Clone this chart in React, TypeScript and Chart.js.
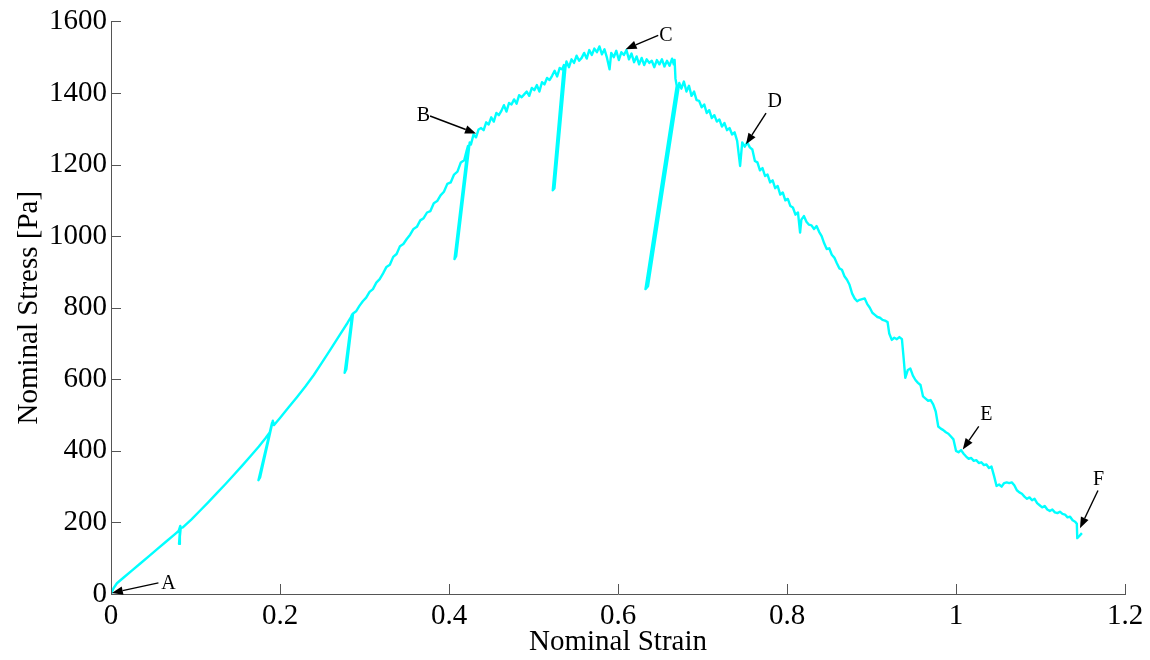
import React, { useEffect, useRef } from 'react';
import { Chart, registerables } from 'chart.js';

Chart.register(...registerables);

const FONT = "'Liberation Serif', 'Times New Roman', Times, serif";

// ---- Axis ticks ----
const xTickValues = [0, 0.2, 0.4, 0.6, 0.8, 1, 1.2];
const xTickLabels = ['0', '0.2', '0.4', '0.6', '0.8', '1', '1.2'];
const yTickValues = [0, 200, 400, 600, 800, 1000, 1200, 1400, 1600];
const yTickLabels = ['0', '200', '400', '600', '800', '1000', '1200', '1400', '1600'];

// ---- Curve data (nominal strain / nominal stress [Pa]) in segments ----
const strainRise = [0, 0.003, 0.007, 0.015, 0.025, 0.035, 0.045, 0.055, 0.065, 0.075,
  0.080, 0.082, 0.0805, 0.0815, 0.0825, 0.085, 0.095, 0.105, 0.115, 0.125,
  0.135, 0.145, 0.155, 0.165, 0.175, 0.183, 0.188, 0.1905, 0.1745, 0.1765,
  0.1915, 0.193, 0.20, 0.21, 0.22, 0.23, 0.24, 0.25, 0.26, 0.27,
  0.28, 0.284, 0.2855, 0.2765, 0.2785, 0.2865, 0.29];
const stressRise = [0, 16, 30, 46, 66, 86, 106, 126, 146, 166,
  176, 190, 140, 160, 184, 186, 208, 232, 256, 281,
  306, 332, 358, 385, 412, 436, 452, 478, 318, 326,
  484, 472, 492, 521, 550, 580, 612, 648, 684, 721,
  758, 774, 782, 618, 628, 784, 790];

const strainUpper = [0.294, 0.298, 0.302, 0.306, 0.310, 0.314, 0.318, 0.322, 0.326, 0.330,
  0.334, 0.338, 0.342, 0.346, 0.350, 0.354, 0.358, 0.362, 0.366, 0.370,
  0.374, 0.378, 0.382, 0.386, 0.390, 0.394, 0.398, 0.402, 0.406, 0.410,
  0.414, 0.418, 0.421, 0.4225, 0.4065, 0.4085, 0.4245];
const stressUpper = [805, 818, 828, 844, 852, 870, 880, 896, 914, 920,
  942, 950, 972, 978, 992, 1004, 1020, 1026, 1044, 1050,
  1066, 1070, 1092, 1098, 1114, 1124, 1146, 1150, 1172, 1180,
  1206, 1212, 1240, 1252, 936, 944, 1262];

const strainShoulder = [0.426, 0.429, 0.432, 0.435, 0.438, 0.441, 0.444, 0.447, 0.450, 0.453,
  0.456, 0.459, 0.462, 0.465, 0.468, 0.471, 0.474, 0.477, 0.480, 0.483,
  0.486, 0.489, 0.492, 0.495, 0.498, 0.501, 0.504, 0.507, 0.510, 0.513,
  0.516, 0.519, 0.522, 0.525, 0.528, 0.531, 0.534, 0.536, 0.5228, 0.5248, 0.5378];
const stressShoulder = [1256, 1284, 1276, 1298, 1302, 1296, 1318, 1312, 1332, 1320,
  1344, 1338, 1350, 1366, 1348, 1372, 1368, 1382, 1370, 1394,
  1388, 1396, 1404, 1392, 1414, 1408, 1422, 1404, 1430, 1424,
  1442, 1436, 1448, 1462, 1446, 1470, 1466, 1478, 1128, 1134, 1470];

const strainPeak = [0.539, 0.542, 0.545, 0.548, 0.551, 0.554, 0.557, 0.560, 0.563, 0.566,
  0.569, 0.572, 0.575, 0.578, 0.581, 0.584, 0.587, 0.590, 0.592, 0.595,
  0.598, 0.601, 0.604, 0.607, 0.610, 0.613, 0.616, 0.619, 0.622, 0.625,
  0.628, 0.631, 0.634, 0.637, 0.640, 0.643, 0.646, 0.649, 0.652, 0.655,
  0.658, 0.661, 0.664, 0.666, 0.667, 0.668, 0.6695, 0.6325, 0.6355, 0.6725];
const stressPeak = [1488, 1472, 1494, 1484, 1504, 1490, 1498, 1512, 1496, 1520,
  1506, 1524, 1514, 1530, 1508, 1522, 1498, 1466, 1512, 1500,
  1518, 1492, 1514, 1506, 1520, 1494, 1510, 1486, 1502, 1480,
  1498, 1478, 1494, 1484, 1490, 1472, 1492, 1480, 1494, 1474,
  1490, 1476, 1496, 1480, 1492, 1440, 1420, 852, 860, 1428];

const strainFall = [0.675, 0.678, 0.681, 0.684, 0.687, 0.690, 0.693, 0.696, 0.699, 0.702,
  0.705, 0.708, 0.711, 0.714, 0.717, 0.720, 0.723, 0.726, 0.729, 0.732,
  0.735, 0.738, 0.741, 0.7445, 0.747, 0.750, 0.753, 0.756, 0.759, 0.762,
  0.765, 0.768, 0.771, 0.774, 0.777, 0.780, 0.783, 0.786, 0.789, 0.792,
  0.795, 0.798, 0.801, 0.804, 0.807, 0.810, 0.813, 0.8155, 0.817, 0.820];
const stressFall = [1412, 1432, 1404, 1420, 1392, 1404, 1380, 1378, 1360, 1368,
  1344, 1352, 1330, 1338, 1320, 1326, 1306, 1316, 1296, 1302,
  1284, 1290, 1266, 1196, 1262, 1250, 1262, 1248, 1242, 1210,
  1206, 1184, 1190, 1168, 1172, 1150, 1156, 1134, 1140, 1116,
  1122, 1100, 1104, 1084, 1080, 1060, 1066, 1010, 1046, 1056];

const strainDrop = [0.823, 0.826, 0.829, 0.832, 0.835, 0.838, 0.841, 0.844, 0.847, 0.850,
  0.853, 0.856, 0.859, 0.862, 0.865, 0.868, 0.871, 0.874, 0.877, 0.880,
  0.883, 0.886, 0.889, 0.892, 0.895, 0.898, 0.901, 0.904, 0.907, 0.910,
  0.913, 0.916, 0.919, 0.921, 0.924, 0.927, 0.930, 0.933, 0.936, 0.938,
  0.940, 0.943, 0.946, 0.949, 0.952, 0.955, 0.958, 0.961, 0.964, 0.967];
const stressDrop = [1040, 1032, 1030, 1020, 1028, 1012, 1000, 980, 964, 966,
  948, 940, 924, 910, 906, 888, 878, 864, 840, 826,
  818, 822, 824, 826, 810, 800, 786, 780, 774, 772,
  766, 764, 760, 728, 710, 716, 712, 718, 712, 660,
  604, 626, 630, 610, 598, 590, 584, 552, 546, 540];

const strainTail = [0.970, 0.973, 0.976, 0.979, 0.982, 0.985, 0.988, 0.991, 0.994, 0.997,
  1.000, 1.003, 1.006, 1.009, 1.012, 1.015, 1.018, 1.021, 1.024, 1.027,
  1.030, 1.033, 1.036, 1.039, 1.042, 1.045, 1.048, 1.051, 1.054, 1.057,
  1.060, 1.063, 1.066, 1.069, 1.072, 1.075, 1.078, 1.081, 1.084, 1.087,
  1.090, 1.093, 1.096, 1.099, 1.102, 1.105, 1.108, 1.111, 1.114, 1.117,
  1.120, 1.123, 1.126, 1.129, 1.132, 1.135, 1.138, 1.141, 1.143, 1.1435,
  1.146, 1.149];
const stressTail = [542, 530, 510, 468, 462, 458, 452, 448, 440, 432,
  400, 396, 402, 392, 384, 378, 380, 372, 374, 366,
  368, 360, 362, 352, 356, 330, 302, 306, 300, 310,
  312, 310, 312, 304, 290, 284, 280, 272, 266, 270,
  262, 266, 254, 248, 242, 246, 236, 232, 236, 228,
  226, 230, 224, 222, 214, 216, 206, 202, 196, 156,
  162, 170];

// ---- Annotations (label, point on curve) ----
const annotationLabels = ['A', 'B', 'C', 'D', 'E', 'F'];
const annotationStrain = [0.001, 0.432, 0.609, 0.7515, 1.008, 1.1467];
const annotationStress = [3, 1287, 1522, 1257, 404, 184];

const strain = [...strainRise, ...strainUpper, ...strainShoulder, ...strainPeak, ...strainFall, ...strainDrop, ...strainTail];
const stress = [...stressRise, ...stressUpper, ...stressShoulder, ...stressPeak, ...stressFall, ...stressDrop, ...stressTail];

// pixel offsets (style) of arrow tails and letters relative to arrow tips
const ARROW_TAIL: [number, number][] = [[46.6, -10], [-46, -17.4], [32.6, -14], [20, -31], [16, -23], [18, -37.6]];
const LETTER_POS: [number, number][] = [[56.6, -10], [-52.7, -18.7], [40.3, -14.3], [28.7, -43.4], [23.6, -35.3], [18.7, -49.5]];

const decorPlugin = {
  id: 'decor',
  afterDatasetsDraw(chart: any) {
    const { ctx, chartArea, scales } = chart;
    const xs = scales.x;
    const ys = scales.y;
    ctx.save();
    ctx.strokeStyle = '#555';
    ctx.lineWidth = 1;
    yTickValues.forEach((v) => {
      const py = Math.round(ys.getPixelForValue(v)) + 0.5;
      ctx.beginPath();
      ctx.moveTo(chartArea.left, py);
      ctx.lineTo(chartArea.left + 10, py);
      ctx.stroke();
    });
    xTickValues.forEach((v) => {
      const px = Math.round(xs.getPixelForValue(v)) + 0.5;
      ctx.beginPath();
      ctx.moveTo(px, chartArea.bottom);
      ctx.lineTo(px, chartArea.bottom - 10);
      ctx.stroke();
    });

    ctx.fillStyle = '#000';
    ctx.strokeStyle = '#000';
    ctx.lineWidth = 1.4;
    ctx.font = `20px ${FONT}`;
    ctx.textAlign = 'center';
    ctx.textBaseline = 'middle';
    annotationLabels.forEach((lab, i) => {
      const tx = xs.getPixelForValue(annotationStrain[i]);
      const ty = ys.getPixelForValue(annotationStress[i]);
      const sx = tx + ARROW_TAIL[i][0];
      const sy = ty + ARROW_TAIL[i][1];
      const ang = Math.atan2(ty - sy, tx - sx);
      const headLen = 11;
      const headW = 4.2;
      const bx = tx - headLen * Math.cos(ang);
      const by = ty - headLen * Math.sin(ang);
      ctx.beginPath();
      ctx.moveTo(sx, sy);
      ctx.lineTo(bx, by);
      ctx.stroke();
      ctx.beginPath();
      ctx.moveTo(tx, ty);
      ctx.lineTo(bx + headW * Math.sin(ang), by - headW * Math.cos(ang));
      ctx.lineTo(bx - headW * Math.sin(ang), by + headW * Math.cos(ang));
      ctx.closePath();
      ctx.fill();
      ctx.fillText(lab, tx + LETTER_POS[i][0], ty + LETTER_POS[i][1] + 1);
    });
    ctx.restore();
  },
};

export default function App() {
  const canvasRef = useRef<HTMLCanvasElement | null>(null);

  useEffect(() => {
    const canvas = canvasRef.current;
    if (!canvas) return;
    const points = strain.map((s, i) => ({ x: s, y: stress[i] }));
    const chart = new Chart(canvas, {
      type: 'scatter',
      data: {
        datasets: [
          {
            data: points,
            showLine: true,
            borderColor: '#00FFFF',
            backgroundColor: '#00FFFF',
            borderWidth: 2.4,
            pointRadius: 0,
            tension: 0,
            borderJoinStyle: 'round',
            fill: false,
          },
        ],
      },
      options: {
        responsive: false,
        animation: false,
        events: [],
        layout: { padding: { top: 19, right: 25, bottom: 0, left: 0 } },
        plugins: { legend: { display: false }, tooltip: { enabled: false } },
        scales: {
          x: {
            type: 'linear',
            min: 0,
            max: 1.2,
            afterBuildTicks: (scale: any) => {
              scale.ticks = xTickValues.map((v) => ({ value: v }));
            },
            afterFit: (scale: any) => {
              scale.height = 66;
            },
            grid: { display: false, drawTicks: false },
            border: { display: true, color: '#555', width: 1 },
            ticks: {
              autoSkip: false,
              maxRotation: 0,
              padding: 5,
              color: '#000',
              font: { family: FONT, size: 29 },
              callback: (_v: any, i: number) => xTickLabels[i],
            },
            title: {
              display: true,
              text: 'Nominal Strain',
              color: '#000',
              font: { family: FONT, size: 29 },
              padding: { top: 0, bottom: 0 },
            },
          },
          y: {
            type: 'linear',
            min: 0,
            max: 1600,
            afterBuildTicks: (scale: any) => {
              scale.ticks = yTickValues.map((v) => ({ value: v }));
            },
            afterFit: (scale: any) => {
              scale.width = 111;
            },
            grid: { display: false, drawTicks: false },
            border: { display: true, color: '#555', width: 1 },
            ticks: {
              autoSkip: false,
              padding: 4,
              color: '#000',
              font: { family: FONT, size: 29 },
              callback: (_v: any, i: number) => yTickLabels[i],
            },
            title: {
              display: true,
              text: 'Nominal Stress [Pa]',
              color: '#000',
              font: { family: FONT, size: 29 },
              padding: { top: 12, bottom: 0 },
            },
          },
        },
      },
      plugins: [decorPlugin],
    } as any);
    return () => chart.destroy();
  }, []);

  return (
    <div style={{ position: 'fixed', left: 0, top: 0, width: 1150, height: 660, background: '#fff' }}>
      <canvas ref={canvasRef} width={1150} height={660} style={{ display: 'block' }} />
    </div>
  );
}
